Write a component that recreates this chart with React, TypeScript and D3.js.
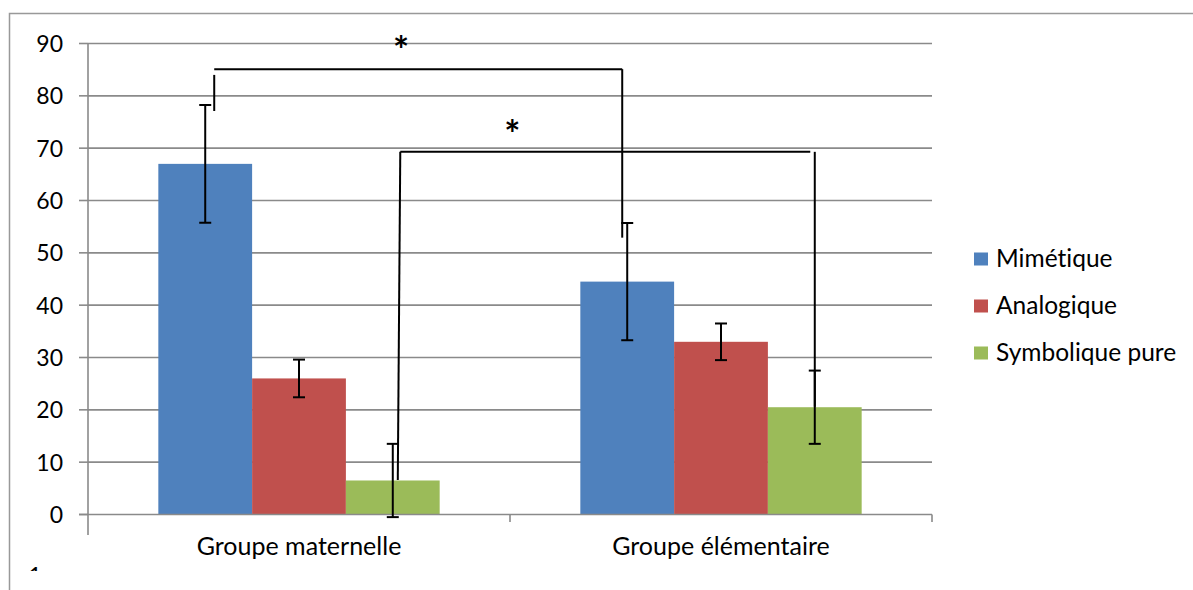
import React from "react";
import * as d3 from "d3";

const groups = ["Groupe maternelle", "Groupe élémentaire"];
const seriesNames = ["Mimétique", "Analogique", "Symbolique pure"];
const seriesColors = ["#4F81BD", "#C0504D", "#9BBB59"];
// values[series][group]
const mimetique = [67, 44.5];
const analogique = [26, 33];
const symbolique = [6.5, 20.5];
const values = [mimetique, analogique, symbolique];
// error half-widths[series][group]
const errMimetique = [11.25, 11.2];
const errAnalogique = [3.6, 3.5];
const errSymbolique = [7.0, 7.0];
const errors = [errMimetique, errAnalogique, errSymbolique];
const yTicks = [0, 10, 20, 30, 40, 50, 60, 70, 80, 90];

// significance brackets (values in data units)
const bracketA = { g1: 0, s1: 0, g2: 1, s2: 0, level: 85.1, leftTop: 84, leftBottom: 77.1, rightBottom: 52.9, starValue: 90.3, starFrac: 0.458 };
const bracketB = { g1: 0, s1: 2, g2: 1, s2: 2, level: 69.3, leftTop: 69.3, leftBottom: 6.6, rightBottom: 20.6, starValue: 74.4, starFrac: 0.273 };

const W = 1193;
const H = 590;
const FONT = "Lato, 'Open Sans', sans-serif";
const noLig = { fontVariantLigatures: "none" as const, fontFeatureSettings: "'liga' 0, 'clig' 0, 'dlig' 0", letterSpacing: "0.01px" };

export default function App() {
  const x = d3.scaleBand<number>().domain([0, 1]).range([88, 932]).paddingInner(0).paddingOuter(0);
  const xs = d3.scaleBand<number>().domain([0, 1, 2]).range([0, x.bandwidth()]).paddingInner(0).paddingOuter(0.75);
  const y = d3.scaleLinear().domain([0, 90]).range([514.5, 43.5]);
  const barCx = (g: number, s: number) => (x(g) as number) + (xs(s) as number) + xs.bandwidth() / 2;

  const capW = 12;

  const renderBracket = (b: typeof bracketA, lOff: number, lOffBottom: number, rOff: number, hEndOff: number, key: string) => {
    const xl = barCx(b.g1, b.s1) + lOff;
    const xlb = barCx(b.g1, b.s1) + lOffBottom;
    const xr = barCx(b.g2, b.s2) + rOff;
    const xh = xr + hEndOff;
    const yl = y(b.level);
    const starX = xl + (xh - xl) * b.starFrac;
    return (
      <g key={key}>
        <line x1={xl} x2={xh} y1={yl} y2={yl} stroke="#000" strokeWidth={2} />
        <line x1={xl} x2={xlb} y1={y(b.leftTop)} y2={y(b.leftBottom)} stroke="#000" strokeWidth={2} />
        <line x1={xr} x2={xr} y1={yl} y2={y(b.rightBottom)} stroke="#000" strokeWidth={2} />
        <text x={starX} y={y(b.starValue) + 22.5} textAnchor="middle" fontSize={38} fontWeight="bold" fontFamily={FONT} fill="#000">*</text>
      </g>
    );
  };

  return (
    <svg width={W} height={H} style={{ position: "absolute", left: 0, top: 0, background: "#fff" }}>
      <defs>
        <clipPath id="clipOne">
          <rect x={0} y={0} width={100} height={571} />
        </clipPath>
      </defs>
      <rect x={0} y={0} width={W} height={H} fill="#fff" />
      {/* outer border */}
      <path d={`M9.5,${H} V13.5 H${W}`} fill="none" stroke="#999" strokeWidth={1.5} />

      {/* gridlines */}
      {yTicks.filter((t) => t > 0).map((t) => (
        <line key={"g" + t} x1={88} x2={932} y1={y(t)} y2={y(t)} stroke="#8a8a8a" strokeWidth={1.6} />
      ))}

      {/* bars */}
      {values.map((sv, s) =>
        sv.map((v, g) => (
          <rect key={`b${s}-${g}`} x={(x(g) as number) + (xs(s) as number)} y={y(v)} width={xs.bandwidth()} height={y(0) - y(v)} fill={seriesColors[s]} />
        ))
      )}

      {/* axes */}
      <line x1={79} x2={932} y1={y(0)} y2={y(0)} stroke="#8a8a8a" strokeWidth={1.6} />
      <line x1={88} x2={88} y1={y(90)} y2={535} stroke="#8a8a8a" strokeWidth={1.6} />
      {yTicks.map((t) => (
        <line key={"t" + t} x1={79} x2={88} y1={y(t)} y2={y(t)} stroke="#8a8a8a" strokeWidth={1.6} />
      ))}
      {[1, 2].map((i) => (
        <line key={"ct" + i} x1={88 + i * x.bandwidth()} x2={88 + i * x.bandwidth()} y1={y(0)} y2={522} stroke="#8a8a8a" strokeWidth={1.6} />
      ))}
      {yTicks.map((t) => (
        <text key={"l" + t} x={63} y={y(t) + 8.5} textAnchor="end" fontSize={23} fontFamily={FONT} fill="#000">{t}</text>
      ))}
      {groups.map((gname, g) => (
        <text key={"c" + g} x={(x(g) as number) + x.bandwidth() / 2} y={555} textAnchor="middle" fontSize={25} fontFamily={FONT} fill="#000" style={noLig}>{gname}</text>
      ))}

      {/* error bars */}
      {values.map((sv, s) =>
        sv.map((v, g) => {
          const cx = barCx(g, s);
          const e = errors[s][g];
          const yt = y(v + e);
          const yb = y(v - e);
          return (
            <g key={`e${s}-${g}`} stroke="#000" strokeWidth={2}>
              <line x1={cx} x2={cx} y1={yt} y2={yb} />
              <line x1={cx - capW / 2} x2={cx + capW / 2} y1={yt} y2={yt} />
              <line x1={cx - capW / 2} x2={cx + capW / 2} y1={yb} y2={yb} />
            </g>
          );
        })
      )}

      {/* significance brackets */}
      {renderBracket(bracketA, 9, 9, -5, 0, "A")}
      {renderBracket(bracketB, 7.5, 5, 0, -4.5, "B")}

      {/* legend */}
      {seriesNames.map((name, s) => (
        <g key={"lg" + s} transform={`translate(974, ${259 + s * 47})`}>
          <rect x={0} y={-6.5} width={14} height={13} fill={seriesColors[s]} />
          <text x={22} y={7.5} fontSize={24.5} fontFamily={FONT} fill="#000" style={noLig}>{name}</text>
        </g>
      ))}

      {/* clipped stray footnote mark */}
      <text x={28} y={584} fontSize={24} fontFamily={FONT} fill="#000" clipPath="url(#clipOne)">1</text>
    </svg>
  );
}
